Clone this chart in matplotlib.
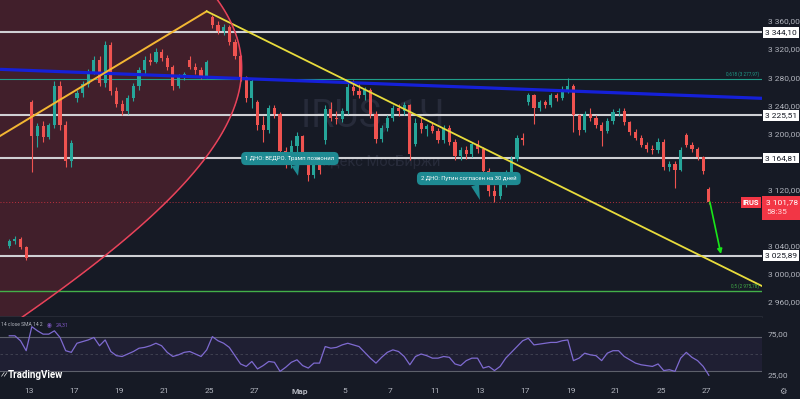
import numpy as np
import matplotlib
matplotlib.use('Agg')
import matplotlib.pyplot as plt
import matplotlib.transforms as mtransforms
from matplotlib.patches import Rectangle
from matplotlib.ticker import FuncFormatter

plt.rcParams['font.family'] = ['Roboto', 'DejaVu Sans']

# ---------------- data ----------------
first_day = -1            # trading-day index of first candle (12 Feb); 0 = 13 Feb
candles_per_day = 4
tick_days = [0, 2, 4, 6, 8, 10, 12, 14, 16, 18, 20, 22, 24, 26, 28, 30]
tick_labels = ['13', '17', '19', '21', '25', '27', 'Мар', '5', '7', '11', '13', '17', '19', '21', '25', '27']
price_ticks = [2960, 3000, 3040, 3120, 3200, 3240, 3280, 3320, 3360]

opens = [3040, 3047, 3050, 3038,  3245, 3196, 3210, 3195,  3212, 3268, 3212, 3160,
         3250, 3258, 3270, 3288,  3305, 3272, 3326, 3260,  3242, 3232, 3250, 3268,
         3290, 3305, 3302, 3316,  3308, 3295, 3268, 3280,  3305, 3295, 3290, 3282,
         3366, 3354, 3346, 3352,  3330, 3310, 3280, 3250,  3245, 3212, 3205, 3236,
         3228, 3175, 3158, 3182,  3196, 3165, 3140, 3156,  3190, 3235, 3222, 3220,
         3232, 3266, 3260, 3255,  3262, 3228, 3192, 3208,  3222, 3236, 3232, 3240,
         3185, 3215, 3206, 3210,  3204, 3190, 3208, 3188,  3168, 3176, 3170, 3185,
         3178, 3146, 3118, 3110,  3128, 3144, 3164, 3194,  3245, 3254, 3236, 3244,
         3240, 3254, 3250, 3262,  3268, 3226, 3205, 3228,  3222, 3212, 3204, 3218,
         3230, 3232, 3216, 3202,  3194, 3184, 3178, 3176,  3188, 3152, 3156, 3148,
         3198, 3184, 3178, 3166,  3120]
highs = [3049, 3053, 3052, 3040,  3248, 3215, 3218, 3215,  3275, 3274, 3218, 3190,
         3262, 3275, 3292, 3310,  3310, 3332, 3330, 3266,  3248, 3255, 3272, 3295,
         3310, 3315, 3322, 3320,  3312, 3298, 3284, 3288,  3310, 3300, 3294, 3305,
         3369, 3360, 3356, 3354,  3334, 3312, 3282, 3278,  3248, 3225, 3240, 3240,
         3230, 3180, 3190, 3202,  3198, 3168, 3162, 3165,  3240, 3244, 3232, 3236,
         3272, 3276, 3270, 3266,  3264, 3232, 3212, 3226,  3240, 3242, 3244, 3242,
         3222, 3222, 3214, 3216,  3208, 3212, 3212, 3192,  3180, 3182, 3188, 3190,
         3180, 3150, 3126, 3132,  3148, 3168, 3198, 3200,  3258, 3256, 3248, 3248,
         3258, 3258, 3268, 3279,  3270, 3228, 3232, 3236,  3226, 3216, 3222, 3234,
         3236, 3236, 3218, 3206,  3198, 3188, 3184, 3194,  3192, 3160, 3160, 3180,
         3200, 3188, 3180, 3168,  3124]
lows = [3036, 3043, 3035, 3020,  3145, 3180, 3188, 3192,  3208, 3205, 3152, 3152,
        3244, 3252, 3266, 3284,  3268, 3266, 3254, 3238,  3226, 3228, 3246, 3262,
        3285, 3298, 3300, 3303,  3290, 3262, 3264, 3276,  3292, 3285, 3278, 3279,
        3350, 3342, 3340, 3326,  3306, 3275, 3245, 3236,  3205, 3188, 3200, 3222,
        3170, 3150, 3150, 3172,  3160, 3132, 3136, 3142,  3185, 3218, 3214, 3216,
        3228, 3255, 3250, 3248,  3222, 3186, 3188, 3204,  3218, 3224, 3226, 3162,
        3182, 3200, 3196, 3200,  3186, 3186, 3184, 3162,  3162, 3164, 3166, 3172,
        3140, 3110, 3102, 3106,  3124, 3140, 3160, 3184,  3240, 3214, 3232, 3236,
        3238, 3246, 3248, 3258,  3202, 3198, 3202, 3218,  3208, 3182, 3200, 3214,
        3224, 3212, 3198, 3190,  3180, 3174, 3170, 3172,  3148, 3146, 3122, 3146,
        3180, 3174, 3162, 3142,  3099]
closes = [3047, 3050, 3038, 3023,  3196, 3210, 3195, 3212,  3268, 3212, 3160, 3186,
          3258, 3270, 3288, 3305,  3272, 3326, 3260, 3242,  3232, 3250, 3268, 3290,
          3305, 3302, 3316, 3308,  3295, 3268, 3280, 3284,  3295, 3290, 3282, 3302,
          3354, 3346, 3352, 3330,  3310, 3280, 3250, 3274,  3212, 3205, 3236, 3228,
          3175, 3158, 3182, 3196,  3165, 3140, 3156, 3148,  3235, 3222, 3220, 3232,
          3266, 3260, 3255, 3262,  3228, 3192, 3208, 3222,  3236, 3232, 3240, 3170,
          3215, 3206, 3210, 3204,  3190, 3208, 3188, 3168,  3176, 3170, 3185, 3178,
          3146, 3118, 3110, 3128,  3144, 3164, 3194, 3190,  3254, 3236, 3244, 3240,
          3254, 3250, 3262, 3268,  3226, 3205, 3228, 3222,  3212, 3204, 3218, 3230,
          3232, 3216, 3202, 3194,  3184, 3178, 3176, 3188,  3152, 3156, 3148, 3176,
          3184, 3178, 3166, 3146,  3101.78]
rsi = [72, 72, 66, 54,  83, 78, 74, 74,  78, 70, 54, 52,  63, 65, 67, 70,
       60, 67, 53, 48,  47, 50, 53, 57,  58, 60, 63, 60,  52, 47, 49, 52,
       53, 50, 47, 55,  71, 66, 63, 58,  48, 38, 35, 41,  32, 36, 41, 40,
       29, 34, 40, 43,  36, 33, 39, 39,  59, 57, 58, 61,  63, 61, 59, 52,
       45, 39, 46, 52,  55, 53, 47, 37,  47, 50, 48, 45,  45, 47, 46, 38,
       36, 42, 45, 45,  33, 35, 30, 35,  45, 52, 59, 66,  69, 61, 62, 63,
       64, 64, 66, 67,  42, 45, 51, 49,  48, 42, 51, 54,  54, 47, 43, 39,
       37, 36, 35, 38,  30, 31, 29, 45,  52, 46, 42, 35,  24.31]

level_prices = [3344.10, 3225.51, 3164.81, 3025.89]
fib_prices = [3277.97, 2975.78]
fib_labels = ['0,618 (3 277,97)', '0,5 (2 975,78)']
last_price = 3101.78
last_timer = '58:35'
ticker = 'IRUS'

# drawing anchors (trading-day index, price)
blue_days, blue_prices = [-1.285, 32.48], [3291.2, 3249.9]
yel1_days, yel1_prices = [-1.285, 7.873], [3196.2, 3373.9]
yel2_days, yel2_prices = [7.873, 32.48], [3373.9, 2982.4]
arrow_days, arrow_prices = [30.17, 30.66], [3102.1, 3028.0]
ell_days = [8.33, 8.68, 9.26, 9.44, 9.04, 8.33, 7.44, 6.11, 4.47, 3.28, 2.57, 1.24]
ell_prices = [3390, 3375.7, 3328.7, 3280.3, 3233.2, 3186.2, 3152.0, 3105.0, 3052.3, 3023.7, 3005.2, 2973.9]
note1 = '1 ДНО: ВЕДРО. Трамп позвонил'
note2 = '2 ДНО: Путин согласен на 30 дней'
note1_box, note1_tip = (11.56, 3164.1), (11.92, 3139.5)
note2_box, note2_tip = (19.49, 3135.6), (19.98, 3105.0)

# ---------------- style ----------------
BG = '#161a25'
GREEN = '#26a69a'
RED = '#ef5350'
TXT = '#b2b5be'
TEAL = '#1e8a92'
WM = '#272b3a'

fig = plt.figure(figsize=(8, 3.99), dpi=100)
fig.patch.set_facecolor(BG)
W, H = 800.0, 399.0
ax = fig.add_axes([0, 82.5 / H, 762 / W, 316.5 / H])
ax2 = fig.add_axes([0, 18 / H, 762 / W, 64 / H], sharex=ax)
for a in (ax, ax2):
    a.set_facecolor(BG)
    for s in a.spines.values():
        s.set_visible(False)
ax.spines['bottom'].set_visible(True)
ax.spines['bottom'].set_color('#2a2e39')
ax.spines['bottom'].set_linewidth(1.2)

xmin, xmax = -1.285, 32.48
ax.set_xlim(xmin, xmax)
ax.set_ylim(2939.0, 3390.0)

o = np.array(opens, float); h = np.array(highs, float)
l = np.array(lows, float); c = np.array(closes, float)
n = len(o)
cx = first_day + (np.arange(n) + 0.5) / candles_per_day

# watermark
ax.text(0.4895, 0.633, 'IRUS, 1Ч', transform=ax.transAxes, ha='center', va='center',
        fontsize=27, color=WM, zorder=0.5)
ax.text(0.4935, 0.488, 'Индекс МосБиржи', transform=ax.transAxes, ha='center', va='center',
        fontsize=10.5, color=WM, zorder=0.5)

# ellipse drawing (conic through anchors)
eu = np.array(ell_days); ev = (np.array(ell_prices) - 3200) / 40
M = np.column_stack([eu * eu, eu * ev, ev * ev, eu, ev])
coef, *_ = np.linalg.lstsq(M, np.ones_like(eu), rcond=None)
gd = np.linspace(-1.6, 33, 700)
gp = np.linspace(2930, 3400, 700)
GD, GP = np.meshgrid(gd, gp)
GV = (GP - 3200) / 40
F = coef[0] * GD ** 2 + coef[1] * GD * GV + coef[2] * GV ** 2 + coef[3] * GD + coef[4] * GV - 1
ax.contourf(GD, GP, F, levels=[F.min() - 1, 0], colors=['#f23645'], alpha=0.2, zorder=1)
ax.contour(GD, GP, F, levels=[0], colors=['#e8435a'], linewidths=1.1, zorder=5)

# horizontal levels
for p in level_prices:
    ax.axhline(p, color='#cfd0d4', lw=1.5, zorder=2)
ax.axhline(fib_prices[0], color='#1f9e8a', lw=0.8, zorder=2)
ax.axhline(fib_prices[1], color='#43b049', lw=1.0, zorder=2)
ax.axhline(last_price, color='#f23645', lw=0.7, ls=(0, (1, 2)), alpha=0.7, zorder=2)

# candles
up = c >= o
cols = np.where(up, GREEN, RED)
ax.vlines(cx, l, h, colors=cols, lw=0.8, zorder=3)
body_lo = np.minimum(o, c)
body_h = np.maximum(np.abs(c - o), 0.8)
ax.bar(cx, body_h, bottom=body_lo, width=0.14, color=cols, linewidth=0, zorder=3.1)

# trend lines
ax.plot(blue_days, blue_prices, color='#1520d8', lw=2.3, zorder=4, solid_capstyle='butt')
ax.plot(yel1_days, yel1_prices, color='#f4b733', lw=1.4, zorder=4)
ax.plot(yel2_days, yel2_prices, color='#e8dc3c', lw=1.3, zorder=4)
ax.annotate('', xy=(arrow_days[1], arrow_prices[1]), xytext=(arrow_days[0], arrow_prices[0]),
            arrowprops=dict(arrowstyle='-|>', color='#19e619', lw=1.2, mutation_scale=7,
                            shrinkA=0, shrinkB=0), zorder=6)

# notes
for txt, bx, tip in [(note1, note1_box, note1_tip), (note2, note2_box, note2_tip)]:
    ax.annotate(txt, xy=tip, xytext=bx, ha='center', va='center', fontsize=4.2, color='white',
                bbox=dict(boxstyle='round,pad=0.7,rounding_size=0.8', fc=TEAL, ec='none'),
                arrowprops=dict(arrowstyle='wedge,tail_width=1.4,shrink_factor=0.5', fc=TEAL,
                                ec='none', shrinkA=0, shrinkB=0, relpos=(0.55, 0.1)),
                zorder=7)

# price scale
def pfmt(v, pos=None):
    return f"{v:,.2f}".replace(',', ' ').replace('.', ',')

ax.yaxis.tick_right()
ax.set_yticks(price_ticks)
ax.yaxis.set_major_formatter(FuncFormatter(pfmt))
ax.tick_params(axis='y', length=0, pad=4, labelsize=6, labelcolor=TXT)
ax.tick_params(axis='x', length=0, labelbottom=False)

btr = mtransforms.blended_transform_factory(ax.transAxes, ax.transData)
for p in level_prices:
    ax.text(1.0 + 3 / 762, p, pfmt(p), transform=btr, ha='left', va='center', fontsize=6,
            color='#131722', clip_on=False, zorder=10,
            bbox=dict(boxstyle='square,pad=0.28', fc='white', ec='none'))
for p, lab, col in zip(fib_prices, fib_labels, ['#1f9e8a', '#43b049']):
    ax.text(1.0 - 3 / 762, p + 3, lab, transform=btr, ha='right', va='bottom', fontsize=3.3,
            color=col, zorder=6)
# last price badge (box spans the price scale width)
ax.add_patch(Rectangle((1.0, last_price - 24.7), 38 / 762, 34.2, transform=btr,
                       fc='#f23645', ec='none', clip_on=False, zorder=9))
ax.text(1.0 + 4 / 762, last_price, pfmt(last_price), transform=btr, ha='left', va='center',
        fontsize=6, color='white', clip_on=False, zorder=10)
ax.text(1.0 + 4 / 762, last_price - 13.5, last_timer, transform=btr, ha='left', va='center',
        fontsize=6, color='#ffd6d9', clip_on=False, zorder=10)
ax.text(1.0 - 3 / 762, last_price, ticker, transform=btr, ha='right', va='center', fontsize=5.5,
        color='white', fontweight='bold', zorder=10,
        bbox=dict(boxstyle='square,pad=0.25', fc='#f23645', ec='none'))

# ---------------- RSI pane ----------------
ax2.set_ylim(17.4, 94.7)
ax2.axhspan(30, 70, color='#7e57c2', alpha=0.09, lw=0, zorder=1)
ax2.axhline(70, color='#5d606b', lw=0.8, zorder=2)
ax2.axhline(30, color='#5d606b', lw=0.8, zorder=2)
ax2.axhline(50, color='#5d606b', lw=0.6, ls=(0, (3, 3)), alpha=0.6, zorder=2)
ax2.plot(cx, rsi, color='#7e6ad0', lw=0.9, zorder=3)
ax2.yaxis.tick_right()
ax2.set_yticks([25, 75])
ax2.set_yticklabels(['25,00', '75,00'])
ax2.tick_params(axis='y', length=0, pad=4, labelsize=6, labelcolor=TXT)
ax2.set_xticks(tick_days)
ax2.set_xticklabels(tick_labels)
ax2.tick_params(axis='x', length=0, pad=5, labelsize=6, labelcolor=TXT)
for t in ax2.get_xticklabels():
    if t.get_text() == 'Мар':
        t.set_fontweight('bold')
ax2.text(1 / 762, 0.88, '14 close SMA 14 2', transform=ax2.transAxes, ha='left',
         va='center', fontsize=3.6, color=TXT, zorder=5)
ax2.text(49 / 762, 0.88, '◉', transform=ax2.transAxes, ha='center', va='center',
         fontsize=4, color='#7e57c2', zorder=5, family='DejaVu Sans')
ax2.text(56 / 762, 0.88, '24,31', transform=ax2.transAxes, ha='left', va='center',
         fontsize=3.8, color='#7e57c2', zorder=5)
ax2.text(1 / 762, 0.1, '⁄⁄', transform=ax2.transAxes, ha='left', va='center',
         fontsize=6, color='white', fontweight='bold', zorder=5)
ax2.text(8 / 762, 0.1, 'TradingView', transform=ax2.transAxes, ha='left', va='center',
         fontsize=7, color='white', fontweight='bold', zorder=5)
fig.text(783 / W, 1 - 391 / H, '⚙', ha='center', va='center', fontsize=6, color=TXT,
         family='DejaVu Sans')

fig.savefig('out.png', dpi=100, facecolor=BG)
